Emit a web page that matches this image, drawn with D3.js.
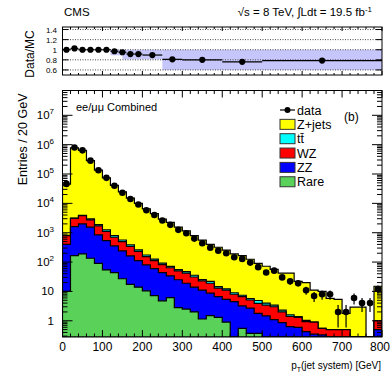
<!DOCTYPE html>
<html>
<head>
<meta charset="utf-8">
<script src="https://cdn.jsdelivr.net/npm/d3@7"></script>
<style>
  body { margin: 0; background: #fff; }
  text { font-family: "Liberation Sans", Arial, Helvetica, sans-serif; fill: #000; }
</style>
</head>
<body>
<script>
// bin edges of the main histogram, 20 GeV wide
const binEdges = d3.range(0, 801, 20);

// stacked MC contributions per bin (entries / 20 GeV)
const rare = [10, 165, 190, 135, 90, 54, 44, 27, 17.5, 14, 10.5, 7.2, 4.8, 6.1, 2.8, 2.5, 2.0, 1.15, 1.5, 1.3,
  0.9, 0, 0.55, 0.37, 0.37, 0, 0, 0, 0, 0, 0, 0, 0, 0, 0, 0, 0, 0, 0, 0];
const zz = [390, 1455, 1810, 1405, 760, 486, 311, 213, 144, 98, 69.5, 52.8, 39.2, 27.9, 22.2, 16.5, 12, 9.85, 7.2, 5.3,
  4.5, 4.5, 2.65, 2.33, 1.43, 1.46, 1.1, 0.86, 0.63, 0.6, 0.43, 0.35, 0.33, 0.2, 0.2, 0.2, 0, 0, 0, 0.5];
const wz = [400, 1480, 1800, 1210, 850, 560, 345, 260, 178, 118, 74, 52, 38, 30, 25, 23, 17, 12, 10.3, 6.4,
  5.6, 3.5, 3.4, 2.4, 2.1, 1.94, 1.9, 1.14, 0.77, 0.7, 0.5, 0.55, 0.22, 0.3, 0.3, 0.3, 0, 0, 0, 0.5];
const ttbar = [20, 60, 90, 200, 200, 140, 95, 65, 45, 30, 20, 14, 10, 7, 5.5, 5, 4.5, 2.5, 3, 1.6,
  1.3, 1, 0.8, 0.6, 1.0, 0.6, 0.4, 0.3, 0.2, 0.1, 0.1, 0, 0, 0, 0, 0, 0, 0, 0, 0];
const zjets = [44180, 776840, 636110, 282050, 133100, 72760, 40205, 23935, 14615, 9740, 6326, 4374, 2808, 2179, 1494, 1103, 764, 534, 378, 305,
  243, 181, 158, 119, 85, 68, 52.6, 39.7, 40.4, 20.6, 19, 10.1, 9.45, 5.3, 4.9, 1.3, 2.9, 2.9, 0, 14];

// observed data per bin
const data = [46000, 800000, 640000, 285000, 135000, 74000, 40000, 23000, 14000, 9100, 5800, 4000, 2600, 1850, 1250, 960, 630, 440, 310, 245,
  200, 146, 128, 96, 67, 44, 51, 30, 22, 19, 11, 7, 8, 8, 2, 2, 6, 4, 4, 12];

// ratio panel (coarser binning)
const ratioEdges = [0, 20, 40, 60, 80, 100, 120, 140, 160, 180, 200, 250, 300, 400, 500, 800];
const ratioVals = [1.0, 1.025, 1.0, 1.0, 1.0, 1.0, 0.97, 0.95, 0.915, 0.915, 0.895, 0.81, 0.80, 0.76, 0.785];
const ratioErr = [0.005, 0.002, 0.002, 0.003, 0.003, 0.004, 0.005, 0.007, 0.008, 0.01, 0.01, 0.015, 0.015, 0.02, 0.025];
const bandEdges = [120, 150, 250, 800];
const bandLow = [0.89, 0.81, 0.6];
const bandHigh = [1.0, 1.0, 1.0];

const legendLabels = ['data', 'Z+jets', 'tt\u0304', 'WZ', 'ZZ', 'Rare'];
const colors = { zjets: '#ffff00', ttbar: '#00ffff', wz: '#ff0000', zz: '#0000ff', rare: '#5ad25a' };

const width = 390, height = 376;
const svg = d3.select('body').append('svg')
  .attr('width', width)
  .attr('height', height);

svg.append('rect').attr('width', width).attr('height', height).attr('fill', '#fff');

const left = 62.5, right = 382;
const x = d3.scaleLinear().domain([0, 800]).range([left, right]);

// ---------- main panel ----------
const mainTop = 90.5, mainBottom = 337;
const y = d3.scaleLog().domain([0.28, 7e7]).range([mainBottom, mainTop]);
const yv = v => (v > 0.28 ? y(v) : mainBottom);

svg.append('clipPath').attr('id', 'clipMain')
  .append('rect').attr('x', left).attr('y', mainTop).attr('width', right - left).attr('height', mainBottom - mainTop);

// cumulative stack from the bottom
const layers = [
  { key: 'rare', vals: rare },
  { key: 'zz', vals: zz },
  { key: 'wz', vals: wz },
  { key: 'ttbar', vals: ttbar },
  { key: 'zjets', vals: zjets }
];
let running = rare.map(() => 0);
layers.forEach(l => {
  running = running.map((r, i) => r + l.vals[i]);
  l.cum = running.slice();
});

function stepPath(cum) {
  let p = 'M' + x(binEdges[0]) + ',' + mainBottom;
  cum.forEach((v, i) => {
    p += 'L' + x(binEdges[i]) + ',' + yv(v) + 'L' + x(binEdges[i + 1]) + ',' + yv(v);
  });
  return p + 'L' + x(binEdges[binEdges.length - 1]) + ',' + mainBottom + 'Z';
}

const stack = svg.append('g').attr('clip-path', 'url(#clipMain)');
layers.slice().reverse().forEach(l => {
  stack.append('path')
    .attr('d', stepPath(l.cum))
    .attr('fill', colors[l.key])
    .attr('stroke', '#000')
    .attr('stroke-width', 1.2);
});

// data points with poisson errors
const pts = svg.append('g').attr('clip-path', 'url(#clipMain)');
data.forEach((n, i) => {
  const cx = x((binEdges[i] + binEdges[i + 1]) / 2);
  const e = Math.sqrt(n);
  pts.append('line')
    .attr('x1', cx).attr('x2', cx)
    .attr('y1', yv(n + e)).attr('y2', yv(n - e))
    .attr('stroke', '#000').attr('stroke-width', 1.2);
  pts.append('circle')
    .attr('cx', cx).attr('cy', y(n)).attr('r', 3.3)
    .attr('fill', '#000');
});

// frame + ticks of main panel
svg.append('rect')
  .attr('x', left).attr('y', mainTop).attr('width', right - left).attr('height', mainBottom - mainTop)
  .attr('fill', 'none').attr('stroke', '#000').attr('stroke-width', 1);

const xMajor = d3.range(0, 801, 100);
const xMinor = d3.range(0, 801, 20).filter(v => v % 100 !== 0);

function xTicks(yPos, dir, majLen, minLen) {
  const g = svg.append('g');
  xMajor.forEach(v => g.append('line').attr('x1', x(v)).attr('x2', x(v))
    .attr('y1', yPos).attr('y2', yPos + dir * majLen).attr('stroke', '#000'));
  xMinor.forEach(v => g.append('line').attr('x1', x(v)).attr('x2', x(v))
    .attr('y1', yPos).attr('y2', yPos + dir * minLen).attr('stroke', '#000'));
}
xTicks(mainBottom, -1, 7, 3.5);
xTicks(mainTop, 1, 7, 3.5);

const yMajor = d3.range(0, 8).map(k => Math.pow(10, k));
const yMinor = [];
for (let k = -1; k < 8; k++) {
  for (let m = 2; m < 10; m++) {
    const v = m * Math.pow(10, k);
    if (v > 0.28 && v < 7e7) yMinor.push(v);
  }
}
[[left, 1], [right, -1]].forEach(([xp, dir]) => {
  yMajor.forEach(v => svg.append('line').attr('x1', xp).attr('x2', xp + dir * 10)
    .attr('y1', y(v)).attr('y2', y(v)).attr('stroke', '#000'));
  yMinor.forEach(v => svg.append('line').attr('x1', xp).attr('x2', xp + dir * 5)
    .attr('y1', y(v)).attr('y2', y(v)).attr('stroke', '#000'));
});

// tick labels (the last one is kept inside the page)
svg.append('g').selectAll('text').data(xMajor).enter().append('text')
  .attr('x', d => (d === 800 ? 390 : x(d))).attr('y', 351)
  .attr('text-anchor', d => (d === 800 ? 'end' : 'middle'))
  .style('font-size', '12px')
  .text(d => d);

const yLab = svg.append('g');
yMajor.forEach((v, k) => {
  const t = yLab.append('text')
    .attr('x', 54).attr('y', y(v) + 4)
    .attr('text-anchor', 'end')
    .style('font-size', '11.5px');
  if (k === 0) t.text('1');
  else if (k === 1) t.text('10');
  else {
    t.append('tspan').text('10');
    t.append('tspan').attr('dy', -5).style('font-size', '8px').text(k);
  }
});

// axis titles
svg.append('text')
  .attr('x', 381).attr('y', 369)
  .attr('text-anchor', 'end')
  .style('font-size', '10px')
  .call(t => {
    t.append('tspan').text('p');
    t.append('tspan').attr('dy', 3).style('font-size', '7px').text('T');
    t.append('tspan').attr('dy', -3).text('(jet system) [GeV]');
  });

svg.append('text')
  .attr('transform', 'translate(27,' + (mainTop + 3) + ') rotate(-90)')
  .attr('text-anchor', 'end')
  .style('font-size', '12.5px')
  .text('Entries / 20 GeV');

svg.append('text')
  .attr('x', 76).attr('y', 111)
  .style('font-size', '11px')
  .text('ee/\u03bc\u03bc Combined');

svg.append('text')
  .attr('x', 344).attr('y', 121)
  .style('font-size', '12px')
  .text('(b)');

// legend
const legend = svg.append('g');
const legKeys = ['data', 'zjets', 'ttbar', 'wz', 'zz', 'rare'];
legKeys.forEach((k, i) => {
  const cy = 110 + i * 14.35;
  if (k === 'data') {
    legend.append('line').attr('x1', 280).attr('x2', 295).attr('y1', cy).attr('y2', cy)
      .attr('stroke', '#000').attr('stroke-width', 1.2);
    legend.append('circle').attr('cx', 287.5).attr('cy', cy).attr('r', 3).attr('fill', '#000');
  } else {
    legend.append('rect')
      .attr('x', 280).attr('y', cy - 5).attr('width', 15).attr('height', 10)
      .attr('fill', colors[k]).attr('stroke', '#333').attr('stroke-width', 1);
  }
  legend.append('text')
    .attr('x', 297).attr('y', cy + 4.5)
    .style('font-size', '12.5px')
    .text(legendLabels[i]);
});

// ---------- ratio panel ----------
const rTop = 27, rBottom = 75;
const yr = d3.scaleLinear().domain([0.5, 1.45]).range([rBottom, rTop]);

const band = svg.append('g');
bandLow.forEach((lo, i) => {
  band.append('rect')
    .attr('x', x(bandEdges[i])).attr('width', x(bandEdges[i + 1]) - x(bandEdges[i]))
    .attr('y', yr(bandHigh[i])).attr('height', yr(lo) - yr(bandHigh[i]))
    .attr('fill', '#c6c6fb');
});

const rGrid = [0.6, 0.8, 1.0, 1.2, 1.4];
rGrid.forEach(v => {
  svg.append('line')
    .attr('x1', left).attr('x2', right).attr('y1', yr(v)).attr('y2', yr(v))
    .attr('stroke', '#444').attr('stroke-width', 1).attr('stroke-dasharray', '1,1.5');
});

const rp = svg.append('g');
ratioVals.forEach((r, i) => {
  const x0 = x(ratioEdges[i]), x1 = x(ratioEdges[i + 1]);
  const cx = x((ratioEdges[i] + ratioEdges[i + 1]) / 2);
  rp.append('line').attr('x1', x0).attr('x2', x1).attr('y1', yr(r)).attr('y2', yr(r))
    .attr('stroke', '#000').attr('stroke-width', 1.2);
  rp.append('line').attr('x1', cx).attr('x2', cx).attr('y1', yr(r + ratioErr[i])).attr('y2', yr(r - ratioErr[i]))
    .attr('stroke', '#000').attr('stroke-width', 1.2);
  rp.append('circle').attr('cx', cx).attr('cy', yr(r)).attr('r', 3.1).attr('fill', '#000');
});

svg.append('rect')
  .attr('x', left).attr('y', rTop).attr('width', right - left).attr('height', rBottom - rTop)
  .attr('fill', 'none').attr('stroke', '#000').attr('stroke-width', 1);

xTicks(rBottom, -1, 4, 2);
xTicks(rTop, 1, 4, 2);
rGrid.forEach(v => {
  svg.append('line').attr('x1', left).attr('x2', left + 6).attr('y1', yr(v)).attr('y2', yr(v)).attr('stroke', '#000');
  svg.append('line').attr('x1', right).attr('x2', right - 6).attr('y1', yr(v)).attr('y2', yr(v)).attr('stroke', '#000');
});

svg.append('g').selectAll('text').data(rGrid).enter().append('text')
  .attr('x', 57).attr('y', d => yr(d) + 3)
  .attr('text-anchor', 'end')
  .style('font-size', '8px')
  .text(d => d3.format('.1f')(d).replace('1.0', '1'));

svg.append('text')
  .attr('transform', 'translate(34,' + ((rTop + rBottom) / 2 + 3) + ') rotate(-90)')
  .attr('text-anchor', 'middle')
  .style('font-size', '12px')
  .text('Data/MC');

// header
svg.append('text')
  .attr('x', 64).attr('y', 16)
  .style('font-size', '11.5px')
  .text('CMS');

svg.append('text')
  .attr('x', 372).attr('y', 16)
  .attr('text-anchor', 'end')
  .style('font-size', '11.5px')
  .call(t => {
    t.append('tspan').text('\u221as = 8 TeV,  \u222bLdt = 19.5 fb');
    t.append('tspan').attr('dy', -4).style('font-size', '8px').text('-1');
  });
</script>
</body>
</html>
